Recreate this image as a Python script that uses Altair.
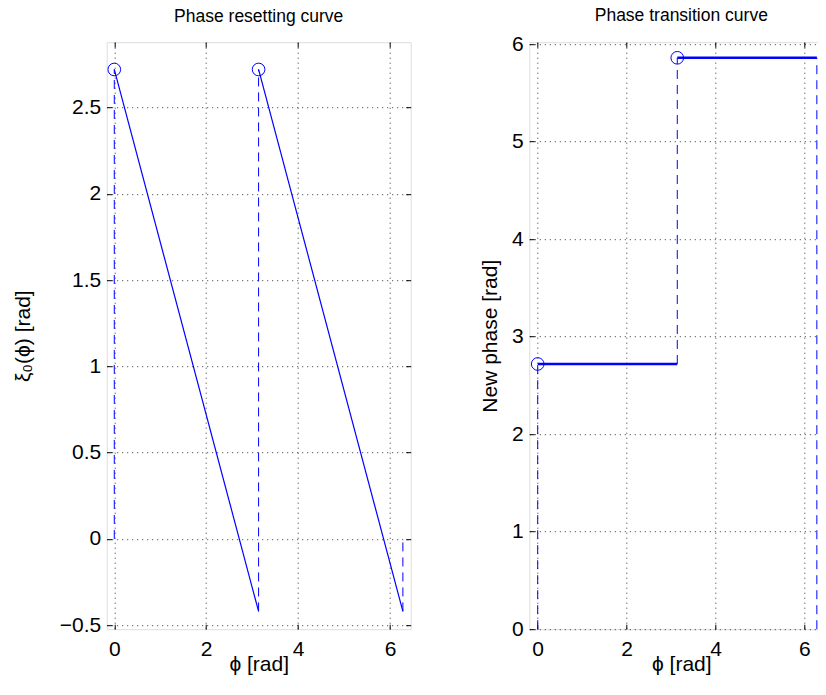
import altair as alt
import pandas as pd

# ---------------- data ----------------
# Left panel: phase resetting curve xi_0(phi)
prc_solid_phi = [0.0, 3.14, 3.14, 6.28]
prc_solid_xi = [2.72, -0.42, 2.72, -0.42]
prc_solid_seg = [0, 0, 1, 1]

prc_dash_phi = [0.0, 3.14, 6.28]
prc_dash_lo = [0.0, -0.42, -0.42]
prc_dash_hi = [2.72, 2.72, 0.0]

prc_circ_phi = [0.0, 3.14]
prc_circ_xi = [2.72, 2.72]

# Right panel: phase transition curve
ptc_solid_phi = [0.0, 3.14, 3.14, 6.28]
ptc_solid_new = [2.72, 2.72, 5.86, 5.86]
ptc_solid_seg = [0, 0, 1, 1]

ptc_dash_phi = [0.0, 3.14, 6.28]
ptc_dash_lo = [0.0, 2.72, 0.0]
ptc_dash_hi = [2.72, 5.86, 5.86]

ptc_circ_phi = [0.0, 3.14]
ptc_circ_new = [2.72, 5.86]

x_ticks = [0, 2, 4, 6]
prc_y_ticks = [-0.5, 0, 0.5, 1, 1.5, 2, 2.5]
ptc_y_ticks = [0, 1, 2, 3, 4, 5, 6]

FONT = "Liberation Sans"
BLUE = "#0000ff"
W, H = 304, 587
FS = 21
PAD_L, PAD_T = 98.7, 34.2
SVG_W, SVG_H = 810, 671


def x_axis():
    return alt.Axis(orient="bottom", values=x_ticks, offset=-5, tickSize=5, domain=False,
                    grid=True, gridDash=[1, 4], gridColor="#000000", gridOpacity=0.8,
                    tickColor="black", labelColor="black", labelFontSize=FS, labelFont=FONT,
                    labelPadding=9.5, format="~g",
                    title="ϕ [rad]", titleFontSize=FS, titleFont=FONT, titleFontWeight="normal",
                    titleColor="black", titleBaseline="alphabetic", titleY=46)


def y_axis(values, title, title_x):
    return alt.Axis(orient="left", values=values, offset=-5, tickSize=5, domain=False,
                    grid=True, gridDash=[1, 4], gridColor="#000000", gridOpacity=0.8,
                    tickColor="black", labelColor="black", labelFontSize=FS, labelFont=FONT,
                    labelPadding=6, format="~g",
                    title=title, titleFontSize=FS, titleFont=FONT, titleFontWeight="normal",
                    titleColor="black", titleBaseline="middle", titleX=title_x)


def side_axis(orient, values):
    return alt.Axis(orient=orient, values=values, offset=-5, tickSize=5, domain=False,
                    grid=False, labels=False, title=None, tickColor="black")


def panel(solid, dash, circ, xdom, ydom, yticks, ytitle, ytitle_x, title, title_off, line_w):
    xs = alt.Scale(domain=xdom, nice=False, zero=False)
    ys = alt.Scale(domain=ydom, nice=False, zero=False)
    solid_l = alt.Chart(solid).mark_line(color=BLUE, strokeWidth=line_w).encode(
        x=alt.X("phi:Q", scale=xs, axis=x_axis()),
        y=alt.Y("val:Q", scale=ys, axis=y_axis(yticks, ytitle, ytitle_x)),
        detail="seg:N",
    )
    dash_l = alt.Chart(dash).mark_rule(color=BLUE, strokeWidth=1, strokeDash=[9, 6]).encode(
        x=alt.X("phi:Q", scale=xs, axis=side_axis("top", x_ticks)),
        y=alt.Y("lo:Q", scale=ys, axis=side_axis("right", yticks)),
        y2="hi:Q",
    )
    circ_l = alt.Chart(circ).mark_point(shape="circle", filled=False, size=160,
                                         strokeWidth=1, color=BLUE, opacity=1).encode(
        x=alt.X("phi:Q", scale=xs, axis=None),
        y=alt.Y("val:Q", scale=ys, axis=None),
    )
    return alt.layer(solid_l, dash_l, circ_l).resolve_axis(
        x="independent", y="independent"
    ).properties(
        width=W, height=H,
        title=alt.TitleParams(title, fontSize=17.5, font=FONT, fontWeight="normal",
                              color="black", offset=title_off),
    )


left = panel(
    pd.DataFrame({"phi": prc_solid_phi, "val": prc_solid_xi, "seg": prc_solid_seg}),
    pd.DataFrame({"phi": prc_dash_phi, "lo": prc_dash_lo, "hi": prc_dash_hi}),
    pd.DataFrame({"phi": prc_circ_phi, "val": prc_circ_xi}),
    [-0.165, 6.45], [-0.523, 2.878], prc_y_ticks, "ξ₀(ϕ) [rad]", -88.7,
    "Phase resetting curve", 16.5, 1.2,
)
right = panel(
    pd.DataFrame({"phi": ptc_solid_phi, "val": ptc_solid_new, "seg": ptc_solid_seg}),
    pd.DataFrame({"phi": ptc_dash_phi, "lo": ptc_dash_lo, "hi": ptc_dash_hi}),
    pd.DataFrame({"phi": ptc_circ_phi, "val": ptc_circ_new}),
    [-0.189, 6.65], [0, 6.02], ptc_y_ticks, "New phase [rad]", -44.3,
    "Phase transition curve", 8.5, 2.5,
)

chart = alt.hconcat(left, right, spacing=118.6, bounds="flush").properties(
    autosize=alt.AutoSizeParams(type="none"),
    padding={"left": PAD_L, "top": PAD_T, "right": SVG_W - PAD_L, "bottom": SVG_H - PAD_T},
).configure_view(stroke="black", strokeWidth=1).configure(background="white")

chart.save("out.html", embed_options={"renderer": "svg", "actions": False})
